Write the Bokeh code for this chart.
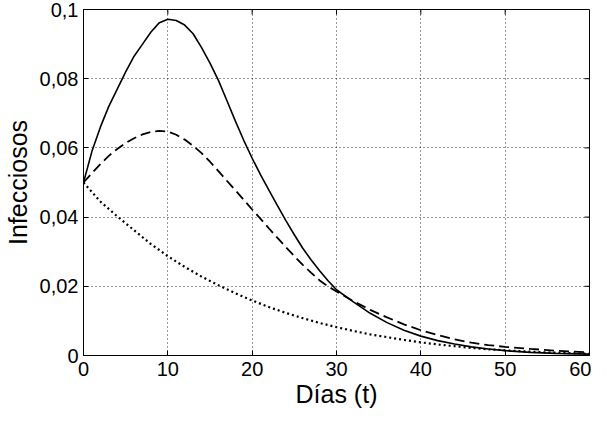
import math
from bokeh.plotting import figure
from bokeh.models import CustomJSTickFormatter, FixedTicker, Range1d
from bokeh.embed import file_html
from bokeh.resources import INLINE

# Days
t_solid = [0, 1, 2, 3, 4, 5, 6, 7, 8, 9, 10, 11, 12, 13, 14, 15, 16, 17, 18, 19, 20,
           21, 22, 23, 24, 25, 26, 27, 28, 29, 30, 32, 34, 36, 38, 40, 42, 44, 46, 48,
           50, 53, 56, 60]
v_solid = [0.050, 0.059, 0.066, 0.072, 0.077, 0.082, 0.0865, 0.090, 0.0935, 0.0962, 0.0972,
           0.0968, 0.0955, 0.093, 0.089, 0.0845, 0.0795, 0.0737, 0.0678, 0.0622, 0.0570,
           0.0522, 0.0477, 0.0433, 0.0390, 0.0349, 0.031, 0.0276, 0.0245, 0.0216, 0.019,
           0.0155, 0.0122, 0.0095, 0.0073, 0.0056, 0.0043, 0.0033, 0.0025, 0.0019,
           0.0014, 0.0009, 0.0006, 0.0004]

t_dashed = [0, 1, 2, 3, 4, 5, 6, 7, 8, 9, 10, 11, 12, 13, 14, 15, 16, 17, 18, 19, 20,
            21, 22, 23, 24, 25, 26, 27, 28, 29, 30, 32, 34, 36, 38, 40, 42, 44, 46, 48,
            50, 53, 56, 60]
v_dashed = [0.050, 0.0527, 0.0553, 0.0577, 0.0597, 0.0614, 0.0628, 0.0639, 0.0646, 0.0649,
            0.0647, 0.0638, 0.0624, 0.0606, 0.0585, 0.056, 0.0533, 0.0505, 0.0478, 0.045,
            0.0422, 0.0395, 0.0367, 0.034, 0.0313, 0.0287, 0.0262, 0.0239, 0.0217, 0.020,
            0.0185, 0.0157, 0.0132, 0.011, 0.009, 0.0073, 0.0059, 0.0047, 0.0037, 0.0030,
            0.0025, 0.0019, 0.0014, 0.0009]

t_dotted = [0, 2, 4, 6, 8, 10, 12, 14, 16, 18, 20, 22, 24, 26, 28, 30, 32, 34, 36, 38,
            40, 42, 44, 46, 48, 50, 53, 56, 60]
v_dotted = [0.050, 0.0445, 0.0402, 0.0362, 0.0322, 0.0287, 0.0256, 0.0228, 0.0203, 0.018,
            0.0159, 0.014, 0.0123, 0.0108, 0.0094, 0.0082, 0.0071, 0.0061, 0.0053, 0.0045,
            0.0038, 0.0032, 0.0027, 0.0022, 0.0018, 0.0015, 0.0011, 0.0008, 0.0005]

x_ticks = [0, 10, 20, 30, 40, 50, 60]
y_ticks = [0, 0.02, 0.04, 0.06, 0.08, 0.1]
x_max = 60
y_max = 0.1

FONT = "Liberation Sans"

p = figure(width=591, height=416, output_backend="svg", toolbar_location=None,
           x_range=Range1d(0, x_max), y_range=Range1d(0, y_max),
           min_border_left=80, min_border_right=2, min_border_top=9, min_border_bottom=61,
           x_axis_label="Días (t)", y_axis_label="Infecciosos")
p.styles = {"margin-bottom": "-8px"}

p.background_fill_color = "white"
p.border_fill_color = "white"
p.outline_line_color = "black"
p.outline_line_width = 1

p.line(t_solid, v_solid, line_color="black", line_width=1.6)
p.line(t_dashed, v_dashed, line_color="black", line_width=1.8, line_dash="10 5")
p.line(t_dotted, v_dotted, line_color="black", line_width=2.2, line_dash="2 3")

# inner tick marks on the top and right edges of the box
p.ray(x=x_ticks[1:-1], y=[y_max] * (len(x_ticks) - 2), length=5, length_units="screen",
      angle=-math.pi / 2, line_color="black", line_width=1)
p.ray(x=[x_max] * (len(y_ticks) - 2), y=y_ticks[1:-1], length=5, length_units="screen",
      angle=math.pi, line_color="black", line_width=1)

fmt = CustomJSTickFormatter(code="var s = parseFloat(tick.toFixed(4)).toString(); return s.replace('.', ',');")

for ax in [p.xaxis[0], p.yaxis[0]]:
    ax.major_label_text_font = FONT
    ax.major_label_text_font_size = "20px"
    ax.major_label_text_color = "black"
    ax.axis_label_text_font = FONT
    ax.axis_label_text_font_size = "25px"
    ax.axis_label_text_font_style = "normal"
    ax.axis_label_text_color = "black"
    ax.axis_line_color = "black"
    ax.major_tick_in = 5
    ax.major_tick_out = 0
    ax.minor_tick_line_color = None
    ax.formatter = fmt

p.xaxis[0].ticker = FixedTicker(ticks=x_ticks)
p.yaxis[0].ticker = FixedTicker(ticks=y_ticks)
p.xaxis[0].major_label_standoff = 6
p.xaxis[0].axis_label_standoff = 1
p.yaxis[0].major_label_standoff = 5
p.yaxis[0].axis_label_standoff = 5

p.xgrid.ticker = FixedTicker(ticks=x_ticks[1:-1])
p.ygrid.ticker = FixedTicker(ticks=y_ticks[1:-1])
for g in [p.xgrid[0], p.ygrid[0]]:
    g.grid_line_color = "black"
    g.grid_line_alpha = 0.8
    g.grid_line_dash = "1 3"
    g.grid_line_width = 1

open("out.html", "w").write(file_html(p, INLINE))
